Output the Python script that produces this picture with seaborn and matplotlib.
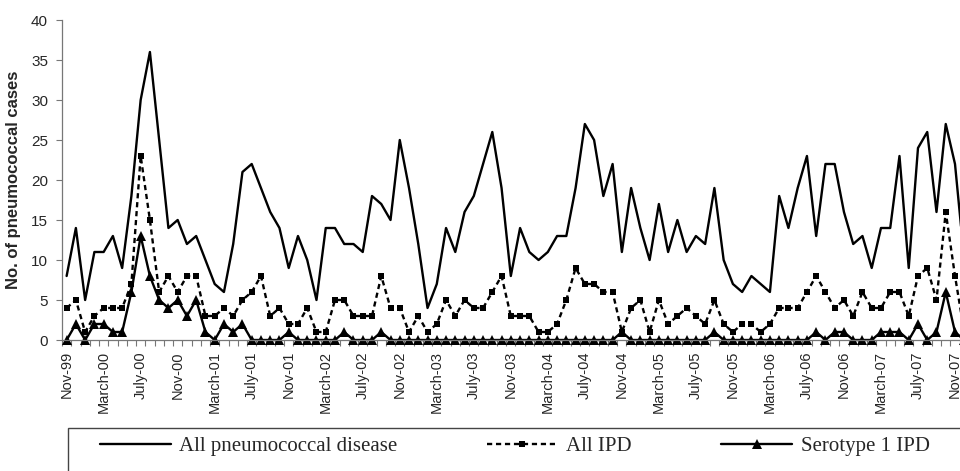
import numpy as np
import pandas as pd
import matplotlib
matplotlib.use('Agg')
import matplotlib.pyplot as plt
from matplotlib.patches import Rectangle
import seaborn as sns

# monthly counts, Nov-99 onwards (last month is cut off at the right edge)
all_pneumo = [8, 14, 5, 11, 11, 13, 9, 18, 30, 36,
              25, 14, 15, 12, 13, 10, 7, 6, 12, 21,
              22, 19, 16, 14, 9, 13, 10, 5, 14, 14,
              12, 12, 11, 18, 17, 15, 25, 19, 12, 4,
              7, 14, 11, 16, 18, 22, 26, 19, 8, 14,
              11, 10, 11, 13, 13, 19, 27, 25, 18, 22,
              11, 19, 14, 10, 17, 11, 15, 11, 13, 12,
              19, 10, 7, 6, 8, 7, 6, 18, 14, 19,
              23, 13, 22, 22, 16, 12, 13, 9, 14, 14,
              23, 9, 24, 26, 16, 27, 22, 10]
all_ipd = [4, 5, 1, 3, 4, 4, 4, 7, 23, 15,
           6, 8, 6, 8, 8, 3, 3, 4, 3, 5,
           6, 8, 3, 4, 2, 2, 4, 1, 1, 5,
           5, 3, 3, 3, 8, 4, 4, 1, 3, 1,
           2, 5, 3, 5, 4, 4, 6, 8, 3, 3,
           3, 1, 1, 2, 5, 9, 7, 7, 6, 6,
           1, 4, 5, 1, 5, 2, 3, 4, 3, 2,
           5, 2, 1, 2, 2, 1, 2, 4, 4, 4,
           6, 8, 6, 4, 5, 3, 6, 4, 4, 6,
           6, 3, 8, 9, 5, 16, 8, 1]
serotype1 = [0, 2, 0, 2, 2, 1, 1, 6, 13, 8,
             5, 4, 5, 3, 5, 1, 0, 2, 1, 2,
             0, 0, 0, 0, 1, 0, 0, 0, 0, 0,
             1, 0, 0, 0, 1, 0, 0, 0, 0, 0,
             0, 0, 0, 0, 0, 0, 0, 0, 0, 0,
             0, 0, 0, 0, 0, 0, 0, 0, 0, 0,
             1, 0, 0, 0, 0, 0, 0, 0, 0, 0,
             1, 0, 0, 0, 0, 0, 0, 0, 0, 0,
             0, 1, 0, 1, 1, 0, 0, 0, 1, 1,
             1, 0, 2, 0, 1, 6, 1, 0]
tick_labels = ['Nov-99', 'March-00', 'July-00', 'Nov-00', 'March-01', 'July-01',
               'Nov-01', 'March-02', 'July-02', 'Nov-02', 'March-03', 'July-03',
               'Nov-03', 'March-04', 'July-04', 'Nov-04', 'March-05', 'July-05',
               'Nov-05', 'March-06', 'July-06', 'Nov-06', 'March-07', 'July-07',
               'Nov-07']

months = np.arange(len(all_pneumo))
df = pd.DataFrame({'month': months, 'all': all_pneumo,
                   'ipd': all_ipd, 'sero': serotype1})

sns.set_style('white')
plt.rcParams['font.family'] = ['Liberation Sans', 'DejaVu Sans']

fig = plt.figure(figsize=(9.6, 4.71), dpi=100)
ax = fig.add_axes([62 / 960, 131 / 471, 898 / 960, 320 / 471])

sns.lineplot(data=df, x='month', y='all', color='black', lw=1.7,
             label='All pneumococcal disease', ax=ax)
sns.lineplot(data=df, x='month', y='ipd', color='black', lw=1.7,
             linestyle=(0, (2.2, 1.6)), marker='s', markersize=4.5,
             markeredgewidth=0, label='All IPD', ax=ax)
sns.lineplot(data=df, x='month', y='sero', color='black', lw=1.7,
             marker='^', markersize=6.5, markeredgewidth=0,
             label='Serotype 1 IPD', ax=ax, clip_on=False)

ax.set_xlim(-0.5, 96.54)
ax.set_ylim(0, 40)
ax.set_yticks(range(0, 41, 5))
ax.set_xticks(range(0, len(tick_labels) * 4, 4))
ax.set_xticklabels(tick_labels, rotation=90, fontsize=10.5)
ax.set_xticks(np.arange(-0.5, 97, 1), minor=True)
ax.tick_params(axis='x', which='major', length=0, pad=8)
ax.tick_params(axis='x', which='minor', length=4, width=0.8,
               direction='out', color='#777777', bottom=True)
ax.tick_params(axis='y', length=4, width=0.8, direction='out',
               color='#777777', left=True, labelsize=11, pad=6)

for side in ['top', 'right']:
    ax.spines[side].set_visible(False)
for side in ['left', 'bottom']:
    ax.spines[side].set_color('#777777')
    ax.spines[side].set_linewidth(0.9)

ax.set_xlabel('')
ax.set_ylabel('No. of pneumococcal cases', fontsize=12, fontweight='bold')
ax.yaxis.set_label_coords(-41 / 898, 0.5)

handles, labels = ax.get_legend_handles_labels()
if ax.get_legend() is not None:
    ax.get_legend().remove()

fig.legend(handles, labels, loc='center left', bbox_to_anchor=(100 / 960, 25 / 471),
           ncol=3, frameon=False, prop={'family': 'Liberation Serif', 'size': 15},
           handlelength=3.4, handletextpad=0.4, columnspacing=4.3,
           borderpad=0, borderaxespad=0)
fig.add_artist(Rectangle((68 / 960, -0.05), 1.0, 43 / 471 + 0.05,
                         transform=fig.transFigure, fill=False,
                         edgecolor='#444444', lw=1.0))

fig.savefig('out.png', dpi=100)
